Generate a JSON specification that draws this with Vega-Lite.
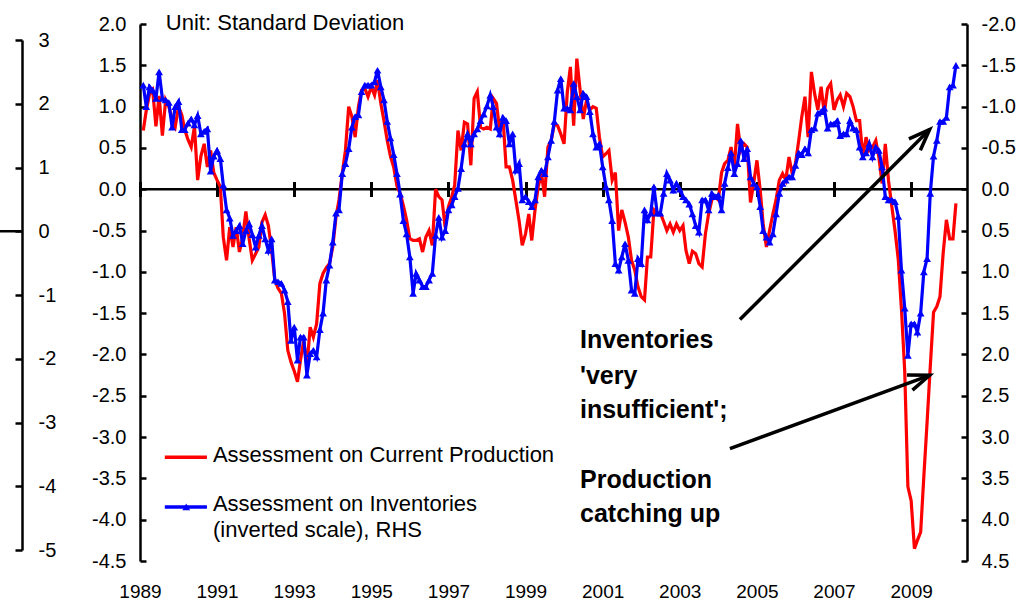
{
"$schema": "https://vega.github.io/schema/vega-lite/v6.json",
"width": 827, "height": 537,
"autosize": {"type": "none"},
"padding": {"left": 140, "top": 24, "right": 58, "bottom": 41},
"background": "white",
"config": {"view": {"stroke": null}, "font": "Liberation Sans", "axis": {"labelFont": "Liberation Sans", "labelColor": "black", "labelFontSize": 20, "domainColor": "black", "tickColor": "black", "grid": false}},
"datasets": {"survey": [
{"date":"1989-02","production":0.71,"inventories":-1.26},
{"date":"1989-03","production":0.95,"inventories":-1.00},
{"date":"1989-04","production":1.15,"inventories":-1.24},
{"date":"1989-05","production":1.20,"inventories":-1.20},
{"date":"1989-06","production":0.76,"inventories":-1.10},
{"date":"1989-07","production":1.13,"inventories":-1.42},
{"date":"1989-08","production":0.65,"inventories":-1.10},
{"date":"1989-09","production":1.08,"inventories":-1.08},
{"date":"1989-10","production":1.00,"inventories":-1.05},
{"date":"1989-11","production":0.85,"inventories":-0.75},
{"date":"1989-12","production":0.76,"inventories":-1.00},
{"date":"1990-01","production":1.00,"inventories":-1.06},
{"date":"1990-02","production":0.90,"inventories":-0.72},
{"date":"1990-03","production":0.72,"inventories":-0.72},
{"date":"1990-04","production":0.60,"inventories":-0.80},
{"date":"1990-05","production":0.51,"inventories":-0.85},
{"date":"1990-06","production":0.76,"inventories":-0.78},
{"date":"1990-07","production":0.11,"inventories":-0.89},
{"date":"1990-08","production":0.40,"inventories":-0.67},
{"date":"1990-09","production":0.55,"inventories":-0.70},
{"date":"1990-10","production":0.27,"inventories":-0.73},
{"date":"1990-11","production":0.47,"inventories":-0.22},
{"date":"1990-12","production":0.20,"inventories":-0.40},
{"date":"1991-01","production":0.11,"inventories":-0.47},
{"date":"1991-02","production":0.03,"inventories":-0.37},
{"date":"1991-03","production":-0.58,"inventories":-0.05},
{"date":"1991-04","production":-0.86,"inventories":0.25},
{"date":"1991-05","production":-0.46,"inventories":0.35},
{"date":"1991-06","production":-0.70,"inventories":0.56},
{"date":"1991-07","production":-0.46,"inventories":0.50},
{"date":"1991-08","production":-0.76,"inventories":0.44},
{"date":"1991-09","production":-0.58,"inventories":0.66},
{"date":"1991-10","production":-0.27,"inventories":0.50},
{"date":"1991-11","production":-0.60,"inventories":0.42},
{"date":"1991-12","production":-0.86,"inventories":0.55},
{"date":"1992-01","production":-0.78,"inventories":0.70},
{"date":"1992-02","production":-0.70,"inventories":0.56},
{"date":"1992-03","production":-0.40,"inventories":0.44},
{"date":"1992-04","production":-0.31,"inventories":0.60},
{"date":"1992-05","production":-0.44,"inventories":0.74},
{"date":"1992-06","production":-0.74,"inventories":0.60},
{"date":"1992-07","production":-1.10,"inventories":1.10},
{"date":"1992-08","production":-1.20,"inventories":1.12},
{"date":"1992-09","production":-1.26,"inventories":1.14},
{"date":"1992-10","production":-1.50,"inventories":1.22},
{"date":"1992-11","production":-1.95,"inventories":1.36},
{"date":"1992-12","production":-2.09,"inventories":1.83},
{"date":"1993-01","production":-2.20,"inventories":1.67},
{"date":"1993-02","production":-2.33,"inventories":2.07},
{"date":"1993-03","production":-2.07,"inventories":1.79},
{"date":"1993-04","production":-1.83,"inventories":1.79},
{"date":"1993-05","production":-2.15,"inventories":2.25},
{"date":"1993-06","production":-1.67,"inventories":1.99},
{"date":"1993-07","production":-1.79,"inventories":1.95},
{"date":"1993-08","production":-1.63,"inventories":2.03},
{"date":"1993-09","production":-1.14,"inventories":1.70},
{"date":"1993-10","production":-1.02,"inventories":1.50},
{"date":"1993-11","production":-0.95,"inventories":1.10},
{"date":"1993-12","production":-0.90,"inventories":0.92},
{"date":"1994-01","production":-0.70,"inventories":0.64},
{"date":"1994-02","production":-0.33,"inventories":0.29},
{"date":"1994-03","production":-0.13,"inventories":0.25},
{"date":"1994-04","production":0.19,"inventories":-0.19},
{"date":"1994-05","production":0.47,"inventories":-0.31},
{"date":"1994-06","production":1.00,"inventories":-0.49},
{"date":"1994-07","production":0.88,"inventories":-0.75},
{"date":"1994-08","production":0.63,"inventories":-0.88},
{"date":"1994-09","production":1.00,"inventories":-0.90},
{"date":"1994-10","production":1.20,"inventories":-1.18},
{"date":"1994-11","production":1.22,"inventories":-1.26},
{"date":"1994-12","production":1.12,"inventories":-1.26},
{"date":"1995-01","production":1.24,"inventories":-1.26},
{"date":"1995-02","production":1.14,"inventories":-1.30},
{"date":"1995-03","production":1.32,"inventories":-1.44},
{"date":"1995-04","production":1.04,"inventories":-1.24},
{"date":"1995-05","production":0.83,"inventories":-1.08},
{"date":"1995-06","production":0.59,"inventories":-0.82},
{"date":"1995-07","production":0.40,"inventories":-0.62},
{"date":"1995-08","production":0.27,"inventories":-0.42},
{"date":"1995-09","production":0.04,"inventories":-0.19},
{"date":"1995-10","production":-0.05,"inventories":0.06},
{"date":"1995-11","production":-0.20,"inventories":0.38},
{"date":"1995-12","production":-0.37,"inventories":0.54},
{"date":"1996-01","production":-0.60,"inventories":0.82},
{"date":"1996-02","production":-0.62,"inventories":1.26},
{"date":"1996-03","production":-0.62,"inventories":1.02},
{"date":"1996-04","production":-0.60,"inventories":1.10},
{"date":"1996-05","production":-0.76,"inventories":1.18},
{"date":"1996-06","production":-0.58,"inventories":1.18},
{"date":"1996-07","production":-0.50,"inventories":1.10},
{"date":"1996-08","production":-0.68,"inventories":1.02},
{"date":"1996-09","production":0.00,"inventories":0.56},
{"date":"1996-10","production":-0.09,"inventories":0.34},
{"date":"1996-11","production":-0.13,"inventories":0.58},
{"date":"1996-12","production":-0.46,"inventories":0.50},
{"date":"1997-01","production":-0.21,"inventories":0.25},
{"date":"1997-02","production":-0.09,"inventories":0.19},
{"date":"1997-03","production":0.05,"inventories":0.09},
{"date":"1997-04","production":0.71,"inventories":-0.01},
{"date":"1997-05","production":0.47,"inventories":-0.25},
{"date":"1997-06","production":0.81,"inventories":-0.55},
{"date":"1997-07","production":0.79,"inventories":-0.67},
{"date":"1997-08","production":0.29,"inventories":-0.55},
{"date":"1997-09","production":1.10,"inventories":-0.67},
{"date":"1997-10","production":1.18,"inventories":-0.73},
{"date":"1997-11","production":0.75,"inventories":-0.83},
{"date":"1997-12","production":0.73,"inventories":-0.91},
{"date":"1998-01","production":0.75,"inventories":-1.01},
{"date":"1998-02","production":0.73,"inventories":-1.14},
{"date":"1998-03","production":1.10,"inventories":-1.00},
{"date":"1998-04","production":1.04,"inventories":-0.75},
{"date":"1998-05","production":0.71,"inventories":-0.67},
{"date":"1998-06","production":0.87,"inventories":-0.87},
{"date":"1998-07","production":0.27,"inventories":-0.83},
{"date":"1998-08","production":0.27,"inventories":-0.55},
{"date":"1998-09","production":0.11,"inventories":-0.67},
{"date":"1998-10","production":-0.13,"inventories":-0.23},
{"date":"1998-11","production":-0.38,"inventories":-0.31},
{"date":"1998-12","production":-0.68,"inventories":0.13},
{"date":"1999-01","production":-0.54,"inventories":0.09},
{"date":"1999-02","production":-0.30,"inventories":0.15},
{"date":"1999-03","production":-0.62,"inventories":0.21},
{"date":"1999-04","production":-0.25,"inventories":0.13},
{"date":"1999-05","production":0.03,"inventories":-0.15},
{"date":"1999-06","production":0.19,"inventories":-0.23},
{"date":"1999-07","production":-0.09,"inventories":-0.19},
{"date":"1999-08","production":0.51,"inventories":-0.39},
{"date":"1999-09","production":0.59,"inventories":-0.59},
{"date":"1999-10","production":0.79,"inventories":-0.82},
{"date":"1999-11","production":0.77,"inventories":-1.20},
{"date":"1999-12","production":0.67,"inventories":-1.34},
{"date":"2000-01","production":0.55,"inventories":-0.98},
{"date":"2000-02","production":1.18,"inventories":-0.98},
{"date":"2000-03","production":1.48,"inventories":-0.96},
{"date":"2000-04","production":0.77,"inventories":-1.28},
{"date":"2000-05","production":1.58,"inventories":-1.12},
{"date":"2000-06","production":1.20,"inventories":-0.96},
{"date":"2000-07","production":0.85,"inventories":-1.16},
{"date":"2000-08","production":1.08,"inventories":-1.12},
{"date":"2000-09","production":0.96,"inventories":-0.94},
{"date":"2000-10","production":1.00,"inventories":-0.67},
{"date":"2000-11","production":0.98,"inventories":-0.51},
{"date":"2000-12","production":0.63,"inventories":-0.55},
{"date":"2001-01","production":0.39,"inventories":-0.27},
{"date":"2001-02","production":0.43,"inventories":-0.03},
{"date":"2001-03","production":0.47,"inventories":0.13},
{"date":"2001-04","production":0.11,"inventories":0.38},
{"date":"2001-05","production":0.20,"inventories":0.90},
{"date":"2001-06","production":-0.50,"inventories":0.98},
{"date":"2001-07","production":-0.25,"inventories":0.82},
{"date":"2001-08","production":-0.40,"inventories":0.66},
{"date":"2001-09","production":-0.58,"inventories":0.86},
{"date":"2001-10","production":-0.86,"inventories":1.22},
{"date":"2001-11","production":-0.98,"inventories":1.26},
{"date":"2001-12","production":-1.18,"inventories":0.84},
{"date":"2002-01","production":-1.30,"inventories":0.90},
{"date":"2002-02","production":-1.34,"inventories":0.25},
{"date":"2002-03","production":-0.82,"inventories":0.37},
{"date":"2002-04","production":-0.82,"inventories":0.29},
{"date":"2002-05","production":-0.25,"inventories":-0.03},
{"date":"2002-06","production":-0.29,"inventories":0.29},
{"date":"2002-07","production":-0.29,"inventories":0.29},
{"date":"2002-08","production":-0.39,"inventories":0.05},
{"date":"2002-09","production":-0.50,"inventories":-0.19},
{"date":"2002-10","production":-0.42,"inventories":-0.11},
{"date":"2002-11","production":-0.52,"inventories":0.01},
{"date":"2002-12","production":-0.42,"inventories":-0.07},
{"date":"2003-01","production":-0.50,"inventories":0.00},
{"date":"2003-02","production":-0.44,"inventories":0.09},
{"date":"2003-03","production":-0.74,"inventories":0.13},
{"date":"2003-04","production":-0.90,"inventories":0.18},
{"date":"2003-05","production":-0.75,"inventories":0.30},
{"date":"2003-06","production":-0.78,"inventories":0.44},
{"date":"2003-07","production":-0.90,"inventories":0.52},
{"date":"2003-08","production":-0.94,"inventories":0.13},
{"date":"2003-09","production":-0.54,"inventories":0.13},
{"date":"2003-10","production":-0.30,"inventories":0.25},
{"date":"2003-11","production":-0.13,"inventories":0.05},
{"date":"2003-12","production":-0.09,"inventories":0.09},
{"date":"2004-01","production":-0.13,"inventories":0.07},
{"date":"2004-02","production":0.20,"inventories":0.25},
{"date":"2004-03","production":0.31,"inventories":-0.07},
{"date":"2004-04","production":0.35,"inventories":-0.26},
{"date":"2004-05","production":0.51,"inventories":-0.44},
{"date":"2004-06","production":0.27,"inventories":-0.19},
{"date":"2004-07","production":0.79,"inventories":-0.31},
{"date":"2004-08","production":0.47,"inventories":-0.59},
{"date":"2004-09","production":0.55,"inventories":-0.37},
{"date":"2004-10","production":0.51,"inventories":-0.49},
{"date":"2004-11","production":-0.16,"inventories":-0.15},
{"date":"2004-12","production":0.07,"inventories":-0.07},
{"date":"2005-01","production":0.35,"inventories":-0.03},
{"date":"2005-02","production":-0.01,"inventories":0.21},
{"date":"2005-03","production":-0.42,"inventories":0.50},
{"date":"2005-04","production":-0.70,"inventories":0.58},
{"date":"2005-05","production":-0.50,"inventories":0.64},
{"date":"2005-06","production":-0.30,"inventories":0.54},
{"date":"2005-07","production":-0.13,"inventories":0.30},
{"date":"2005-08","production":0.11,"inventories":0.05},
{"date":"2005-09","production":0.19,"inventories":-0.07},
{"date":"2005-10","production":0.11,"inventories":-0.11},
{"date":"2005-11","production":0.39,"inventories":-0.15},
{"date":"2005-12","production":0.19,"inventories":-0.15},
{"date":"2006-01","production":0.31,"inventories":-0.29},
{"date":"2006-02","production":0.59,"inventories":-0.44},
{"date":"2006-03","production":0.87,"inventories":-0.42},
{"date":"2006-04","production":1.12,"inventories":-0.49},
{"date":"2006-05","production":0.63,"inventories":-0.44},
{"date":"2006-06","production":1.42,"inventories":-0.72},
{"date":"2006-07","production":1.16,"inventories":-0.74},
{"date":"2006-08","production":0.96,"inventories":-0.92},
{"date":"2006-09","production":1.24,"inventories":-0.94},
{"date":"2006-10","production":0.92,"inventories":-0.98},
{"date":"2006-11","production":1.22,"inventories":-0.74},
{"date":"2006-12","production":1.28,"inventories":-0.79},
{"date":"2007-01","production":0.96,"inventories":-0.79},
{"date":"2007-02","production":1.08,"inventories":-0.83},
{"date":"2007-03","production":1.14,"inventories":-0.65},
{"date":"2007-04","production":1.00,"inventories":-0.67},
{"date":"2007-05","production":1.16,"inventories":-0.67},
{"date":"2007-06","production":1.12,"inventories":-0.83},
{"date":"2007-07","production":1.00,"inventories":-0.74},
{"date":"2007-08","production":0.83,"inventories":-0.72},
{"date":"2007-09","production":0.83,"inventories":-0.51},
{"date":"2007-10","production":0.39,"inventories":-0.39},
{"date":"2007-11","production":0.63,"inventories":-0.44},
{"date":"2007-12","production":0.47,"inventories":-0.55},
{"date":"2008-01","production":0.51,"inventories":-0.39},
{"date":"2008-02","production":0.59,"inventories":-0.51},
{"date":"2008-03","production":0.39,"inventories":-0.47},
{"date":"2008-04","production":0.07,"inventories":-0.27},
{"date":"2008-05","production":0.55,"inventories":0.09},
{"date":"2008-06","production":0.10,"inventories":0.13},
{"date":"2008-07","production":-0.20,"inventories":0.13},
{"date":"2008-08","production":-0.50,"inventories":0.15},
{"date":"2008-09","production":-0.85,"inventories":0.33},
{"date":"2008-10","production":-1.45,"inventories":0.98},
{"date":"2008-11","production":-2.20,"inventories":1.44},
{"date":"2008-12","production":-3.60,"inventories":2.01},
{"date":"2009-01","production":-3.77,"inventories":1.63},
{"date":"2009-02","production":-4.35,"inventories":1.63},
{"date":"2009-03","production":-4.25,"inventories":1.73},
{"date":"2009-04","production":-4.15,"inventories":1.50},
{"date":"2009-05","production":-3.48,"inventories":1.00},
{"date":"2009-06","production":-2.82,"inventories":0.84},
{"date":"2009-07","production":-2.15,"inventories":0.05},
{"date":"2009-08","production":-1.49,"inventories":-0.40},
{"date":"2009-09","production":-1.42,"inventories":-0.59},
{"date":"2009-10","production":-1.30,"inventories":-0.82},
{"date":"2009-11","production":-0.76,"inventories":-0.82},
{"date":"2009-12","production":-0.37,"inventories":-0.87},
{"date":"2010-01","production":-0.60,"inventories":-1.24},
{"date":"2010-02","production":-0.60,"inventories":-1.26},
{"date":"2010-03","production":-0.17,"inventories":-1.50}
]},
"resolve": {"scale": {"y": "independent"}, "axis": {"x": "independent", "y": "independent"}},
"layer": [
{"data": {"values": [{}]}, "mark": {"type": "rule", "color": "black", "strokeWidth": 2.5},
 "encoding": {"y": {"datum": 0, "type": "quantitative", "scale": {"domain": [-4.5, 2], "nice": false, "zero": false}, "axis": null}}},
{"data": {"name": "survey"}, "mark": {"type": "line", "color": "#FF0000", "strokeWidth": 3.2},
 "encoding": {
  "x": {"field": "date", "type": "temporal",
   "scale": {"domain": [{"year": 1989, "month": 1, "date": 1}, {"year": 2010, "month": 6, "date": 14}]},
   "axis": {"orient": "bottom", "title": null, "values": [{"year": 1989}, {"year": 1991}, {"year": 1993}, {"year": 1995}, {"year": 1997}, {"year": 1999}, {"year": 2001}, {"year": 2003}, {"year": 2005}, {"year": 2007}, {"year": 2009}], "format": "%Y", "domain": false, "ticks": false, "labelFontSize": 19, "labelPadding": 21, "labelFlush": false, "labelOverlap": false, "labelBound": false, "labelAngle": 0, "grid": false}},
  "y": {"field": "production", "type": "quantitative",
   "scale": {"domain": [-4.5, 2], "nice": false, "zero": false},
   "axis": {"orient": "left", "title": null, "values": [-4.5, -4, -3.5, -3, -2.5, -2, -1.5, -1, -0.5, 0, 0.5, 1, 1.5, 2], "labelExpr": "replace(format(datum.value,'.1f'),'\u2212','-')", "domainWidth": 2.5, "tickSize": -6, "tickWidth": 2.5, "labelPadding": 20, "labelOverlap": false, "grid": false}}
 }},
{"data": {"name": "survey"},
 "mark": {"type": "line", "color": "#0000FF", "strokeWidth": 3.2, "point": {"shape": "triangle-up", "size": 60, "filled": true, "color": "#0000FF", "opacity": 1}},
 "encoding": {
  "x": {"field": "date", "type": "temporal",
   "scale": {"domain": [{"year": 1989, "month": 1, "date": 1}, {"year": 2010, "month": 6, "date": 14}]},
   "axis": {"orient": "top", "offset": -172.5, "title": null, "values": [{"year": 1989}, {"year": 1991}, {"year": 1993}, {"year": 1995}, {"year": 1997}, {"year": 1999}, {"year": 2001}, {"year": 2003}, {"year": 2005}, {"year": 2007}, {"year": 2009}], "labels": false, "domain": false, "ticks": true, "tickSize": 15, "tickWidth": 3, "grid": false}},
  "y": {"field": "inventories", "type": "quantitative",
   "scale": {"domain": [-2, 4.5], "reverse": true, "nice": false, "zero": false},
   "axis": {"orient": "right", "title": null, "values": [-2, -1.5, -1, -0.5, 0, 0.5, 1, 1.5, 2, 2.5, 3, 3.5, 4, 4.5], "labelExpr": "replace(format(datum.value,'.1f'),'\u2212','-')", "domainWidth": 2.5, "tickSize": -6, "tickWidth": 2.5, "labelPadding": 20, "labelOverlap": false, "grid": false}}
 }},
{
"data": {"values": [{}]},
"layer": [
{"mark": {"type": "text", "text": "Unit: Standard Deviation", "align": "left", "baseline": "middle", "fontSize": 22, "font": "Liberation Sans", "color": "black"},
 "encoding": {"x": {"datum": {"year": 1989, "month": 9, "date": 3}, "type": "temporal", "axis": null}, "y": {"datum": 2.01, "type": "quantitative", "scale": {"domain": [-4.5, 2], "nice": false, "zero": false}, "axis": null}}},
{"mark": {"type": "rule", "color": "#FF0000", "strokeWidth": 3.5},
 "encoding": {"x": {"datum": {"year": 1989, "month": 8, "date": 24}, "type": "temporal", "axis": null}, "x2": {"datum": {"year": 1990, "month": 9, "date": 27}}, "y": {"datum": -3.245, "type": "quantitative", "axis": null}}},
{"mark": {"type": "text", "text": "Assessment on Current Production", "align": "left", "baseline": "middle", "fontSize": 22, "font": "Liberation Sans", "color": "black"},
 "encoding": {"x": {"datum": {"year": 1990, "month": 11, "date": 23}, "type": "temporal", "axis": null}, "y": {"datum": -3.217, "type": "quantitative", "axis": null}}},
{"mark": {"type": "rule", "color": "#0000FF", "strokeWidth": 3.5},
 "encoding": {"x": {"datum": {"year": 1989, "month": 8, "date": 24}, "type": "temporal", "axis": null}, "x2": {"datum": {"year": 1990, "month": 9, "date": 27}}, "y": {"datum": -3.846, "type": "quantitative", "axis": null}}},
{"mark": {"type": "point", "shape": "triangle-up", "size": 60, "filled": true, "color": "#0000FF", "opacity": 1},
 "encoding": {"x": {"datum": {"year": 1990, "month": 3, "date": 15}, "type": "temporal", "axis": null}, "y": {"datum": -3.846, "type": "quantitative", "axis": null}}},
{"mark": {"type": "text", "text": "Assessment on Inventories", "align": "left", "baseline": "middle", "fontSize": 22, "font": "Liberation Sans", "color": "black"},
 "encoding": {"x": {"datum": {"year": 1990, "month": 11, "date": 23}, "type": "temporal", "axis": null}, "y": {"datum": -3.814, "type": "quantitative", "axis": null}}},
{"mark": {"type": "text", "text": "(inverted scale), RHS", "align": "left", "baseline": "middle", "fontSize": 22, "font": "Liberation Sans", "color": "black"},
 "encoding": {"x": {"datum": {"year": 1990, "month": 11, "date": 23}, "type": "temporal", "axis": null}, "y": {"datum": -4.128, "type": "quantitative", "axis": null}}},
{"mark": {"type": "text", "text": "Inventories", "align": "left", "baseline": "middle", "fontSize": 25, "fontWeight": "bold", "font": "Liberation Sans", "color": "black"},
 "encoding": {"x": {"datum": {"year": 2000, "month": 5, "date": 31}, "type": "temporal", "axis": null}, "y": {"datum": -1.828, "type": "quantitative", "axis": null}}},
{"mark": {"type": "text", "text": "'very", "align": "left", "baseline": "middle", "fontSize": 25, "fontWeight": "bold", "font": "Liberation Sans", "color": "black"},
 "encoding": {"x": {"datum": {"year": 2000, "month": 5, "date": 31}, "type": "temporal", "axis": null}, "y": {"datum": -2.264, "type": "quantitative", "axis": null}}},
{"mark": {"type": "text", "text": "insufficient';", "align": "left", "baseline": "middle", "fontSize": 25, "fontWeight": "bold", "font": "Liberation Sans", "color": "black"},
 "encoding": {"x": {"datum": {"year": 2000, "month": 5, "date": 31}, "type": "temporal", "axis": null}, "y": {"datum": -2.676, "type": "quantitative", "axis": null}}},
{"mark": {"type": "text", "text": "Production", "align": "left", "baseline": "middle", "fontSize": 25, "fontWeight": "bold", "font": "Liberation Sans", "color": "black"},
 "encoding": {"x": {"datum": {"year": 2000, "month": 5, "date": 31}, "type": "temporal", "axis": null}, "y": {"datum": -3.523, "type": "quantitative", "axis": null}}},
{"mark": {"type": "text", "text": "catching up", "align": "left", "baseline": "middle", "fontSize": 25, "fontWeight": "bold", "font": "Liberation Sans", "color": "black"},
 "encoding": {"x": {"datum": {"year": 2000, "month": 5, "date": 31}, "type": "temporal", "axis": null}, "y": {"datum": -3.935, "type": "quantitative", "axis": null}}},
{"mark": {"type": "rule", "color": "black", "strokeWidth": 3.5},
 "encoding": {"x": {"datum": {"year": 2004, "month": 7, "date": 24}, "type": "temporal", "axis": null}, "y": {"datum": -1.577, "type": "quantitative", "axis": null}, "x2": {"datum": {"year": 2009, "month": 6, "date": 25}}, "y2": {"datum": 0.722}}},
{"mark": {"type": "rule", "color": "black", "strokeWidth": 3.5},
 "encoding": {"x": {"datum": {"year": 2004, "month": 4, "date": 20}, "type": "temporal", "axis": null}, "y": {"datum": -3.139, "type": "quantitative", "axis": null}, "x2": {"datum": {"year": 2009, "month": 6, "date": 25}}, "y2": {"datum": -2.252}}},
{"mark": {"type": "point", "shape": "M -1 -0.38 L 0 0 L -1 0.38", "size": 1800, "filled": false, "stroke": "black", "strokeWidth": 3.5, "strokeJoin": "miter", "opacity": 1, "angle": 315},
 "encoding": {"x": {"datum": {"year": 2009, "month": 6, "date": 25}, "type": "temporal", "axis": null}, "y": {"datum": 0.722, "type": "quantitative", "axis": null}}},
{"mark": {"type": "point", "shape": "M -1 -0.38 L 0 0 L -1 0.38", "size": 1800, "filled": false, "stroke": "black", "strokeWidth": 3.5, "strokeJoin": "miter", "opacity": 1, "angle": 340},
 "encoding": {"x": {"datum": {"year": 2009, "month": 6, "date": 25}, "type": "temporal", "axis": null}, "y": {"datum": -2.252, "type": "quantitative", "axis": null}}}
]
},
{"data": {"values": [{}]},
 "mark": {"type": "rule", "color": "black", "strokeWidth": 2.5},
 "encoding": {
  "x": {"datum": {"year": 1985, "month": 5, "date": 15}, "type": "temporal", "axis": null},
  "x2": {"datum": {"year": 1985, "month": 11, "date": 30}},
  "y": {"datum": 0, "type": "quantitative",
   "scale": {"domain": [-5, 3], "range": [526, 16], "nice": false, "zero": false},
   "axis": {"orient": "left", "offset": 118, "title": null, "values": [-5, -4, -3, -2, -1, 0, 1, 2, 3], "labelExpr": "replace(format(datum.value,'d'),'\u2212','-')", "domainWidth": 2.5, "tickSize": 7, "tickWidth": 2.5, "labelAlign": "left", "labelPadding": -23, "labelOverlap": false, "grid": false}}
 }}
]
}
